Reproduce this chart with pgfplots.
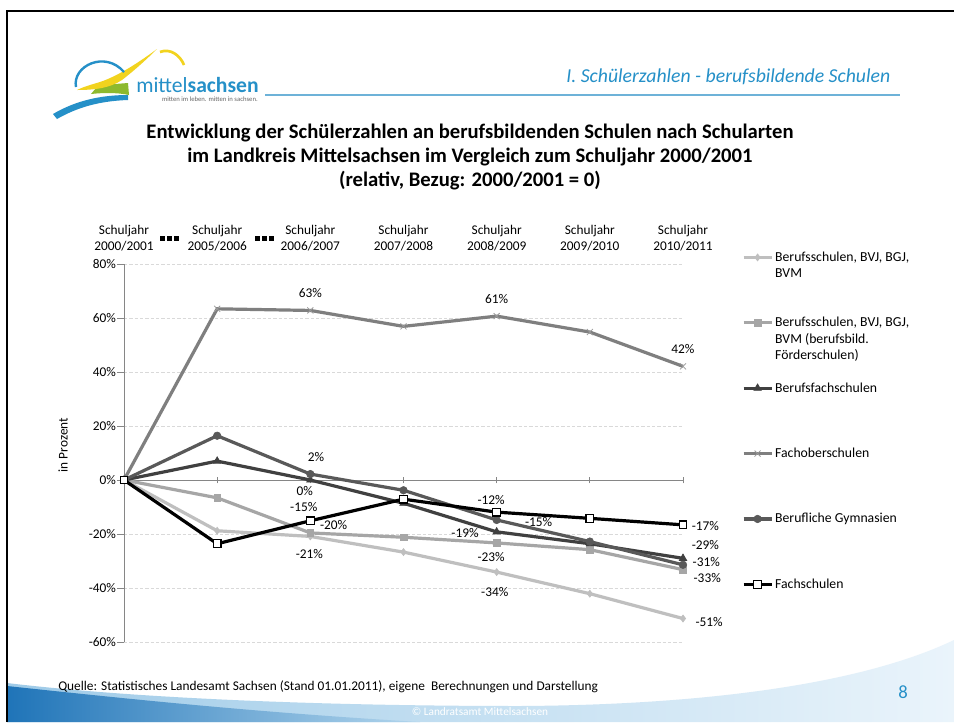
\documentclass[border=0pt]{standalone}
\usepackage{pgfplots}
\pgfplotsset{compat=1.18}
\usepackage{fontspec}
\setmainfont{Carlito}

\definecolor{cBVM}{HTML}{BFBFBF}
\definecolor{cFoe}{HTML}{A6A6A6}
\definecolor{cBFS}{HTML}{404040}
\definecolor{cFOS}{HTML}{7F7F7F}
\definecolor{cGym}{HTML}{595959}
\definecolor{axisgray}{HTML}{868686}
\definecolor{gridgray}{HTML}{D9D9D9}
\definecolor{msblue}{HTML}{2590C8}
\definecolor{headline}{HTML}{6DB2D8}
\definecolor{msyellow}{HTML}{F2D31E}
\definecolor{msgreen}{HTML}{8DB92E}
\definecolor{bandL}{HTML}{1F74B8}
\definecolor{bandM}{HTML}{9FCBE8}
\definecolor{bandR}{HTML}{EAF4FB}

\tikzset{lbl/.style={font=\fontsize{10}{12}\selectfont, inner sep=0pt},
         cat/.style={align=center, font=\fontsize{10}{12}\selectfont, inner sep=0pt}}
\newcommand{\sq}{\rule{3.7pt}{3.7pt}\hspace{1.5pt}\rule{3.7pt}{3.7pt}\hspace{1.5pt}\rule{3.7pt}{3.7pt}}

\begin{document}
\begin{tikzpicture}[x=0.75pt,y=-0.75pt]
\path[use as bounding box] (0,0) rectangle (954,722);
\fill[white] (0,0) rectangle (954,722);

% bottom band
\shade[left color=bandM, right color=bandR] (7,683) .. controls (150,700) and (350,706) .. (520,706)
  .. controls (700,705) and (860,685) .. (954,640) -- (954,722) -- (7,722) -- cycle;
\shade[left color=bandL, right color=bandM!80] (7,686) .. controls (120,698) and (250,712) .. (420,722) -- (7,722) -- cycle;
\node[text=white, font=\fontsize{8.5}{10}\selectfont] at (480,712) {© Landratsamt Mittelsachsen};
\node[text=msblue, font=\fontsize{14}{16}\selectfont] at (903,692) {8};

% frame
\draw[black, line width=2.2pt] (7,722) -- (7,11) -- (954,11);

% logo
\fill[msblue] (53,114) .. controls (75,101) and (100,95) .. (128,95) -- (128,100)
  .. controls (100,101) and (78,107) .. (57,119) -- cycle;
\fill[msgreen] (91,94) .. controls (95,89) and (98,86) .. (102,85) -- (128,83) -- (129,95)
  .. controls (115,92) and (100,93) .. cycle;
\fill[msyellow] (77,90) .. controls (95,90) and (110,88) .. (122,80) .. controls (135,70) and (148,58) .. (157,49)
  .. controls (138,63) and (118,76) .. (100,82) .. controls (90,85) and (83,87) .. (77,90) -- cycle;
\draw[msyellow, line width=2pt] (160,52) .. controls (170,48) and (180,55) .. (184,65);
\draw[msblue, line width=1.8pt] (76,87) .. controls (72,66) and (105,50) .. (124,72);
\node[anchor=base west, text=msblue, inner sep=0pt, font=\fontsize{16.2}{17}\selectfont] at (136,92) {mittel\textbf{sachsen}};
\node[anchor=base east, text=black!60, inner sep=0pt, font=\fontsize{5}{6}\selectfont] at (258,101) {mitten im leben. mitten in sachsen.};

% header
\node[anchor=east, text=msblue, font=\itshape\fontsize{14.8}{16}\selectfont] at (895,77) {I. Schülerzahlen - berufsbildende Schulen};
\draw[headline, line width=1.5pt] (265,95) -- (900,95);

% title
\node[align=center, font=\bfseries\fontsize{15.5}{18}\selectfont] at (470,157)
  {Entwicklung der Schülerzahlen an berufsbildenden Schulen nach Schularten\\
   im Landkreis Mittelsachsen im Vergleich zum Schuljahr 2000/2001\\
   (relativ, Bezug: 2000/2001 = 0)};

% y label
\node[rotate=90, font=\fontsize{10}{12}\selectfont] at (63,445) {in Prozent};

% source
\node[anchor=west, inner sep=0pt, font=\fontsize{10}{12}\selectfont] at (58,687)
  {Quelle: Statistisches Landesamt Sachsen (Stand 01.01.2011), eigene\ \ Berechnungen und Darstellung};

\begin{axis}[
  at={(93pt,-481.5pt)}, anchor=south west,
  scale only axis, width=419.25pt, height=283.5pt,
  xmin=0, xmax=6, ymin=-60, ymax=80,
  clip=false,
  axis x line*=middle, axis y line*=left,
  axis line style={color=axisgray, line width=0.6pt},
  xtick={0,1,2,3,4,5,6}, xticklabels={},
  ytick={-60,-40,-20,0,20,40,60,80},
  yticklabel={\pgfmathprintnumber{\tick}\%},
  /pgf/number format/assume math mode=true,
  tick align=center, major tick length=5pt,
  tick style={color=axisgray, line width=0.6pt},
  y tick style={xshift=-2.5pt},
  ymajorgrids,
  grid style={color=gridgray, line width=0.5pt, dash pattern=on 2.5pt off 1.5pt},
  ticklabel style={font=\fontsize{10}{12}\selectfont},
  legend style={draw=none, fill=none, at={(1.1055,1.0333)}, anchor=north west,
    row sep=0pt, column sep=1.5pt, inner sep=0pt, outer sep=0pt,
    cells={anchor=base west},
    nodes={inner sep=0pt, anchor=base west, text height=7.5pt, text depth=4.76pt,
      font=\fontsize{10.3}{11.3}\selectfont}},
  legend image code/.code={\draw[mark repeat=2,mark phase=2,yshift=3pt]
    plot coordinates {(0pt,0pt) (10.5pt,0pt) (21pt,0pt)};},
]
\addplot[color=cBVM, line width=2.4pt, mark=diamond*, mark size=2.6pt, mark options={fill=cBVM, line width=0.5pt}]
  coordinates {(0,0) (1,-18.8) (2,-20.9) (3,-26.7) (4,-34.1) (5,-42.1) (6,-51.3)};
\addlegendentry{Berufsschulen, BVJ, BGJ,}
\addlegendimage{empty legend}\addlegendentry{BVM}
\addlegendimage{empty legend}\addlegendentry{\mbox{}}
\addlegendimage{empty legend}\addlegendentry{\mbox{}}
\addplot[color=cFoe, line width=2.4pt, mark=square*, mark size=2.5pt, mark options={fill=cFoe, line width=0.5pt}]
  coordinates {(0,0) (1,-6.6) (2,-19.6) (3,-21.2) (4,-23.3) (5,-25.8) (6,-33.2)};
\addlegendentry{Berufsschulen, BVJ, BGJ,}
\addlegendimage{empty legend}\addlegendentry{BVM (berufsbild.}
\addlegendimage{empty legend}\addlegendentry{Förderschulen)}
\addlegendimage{empty legend}\addlegendentry{\mbox{}}
\addplot[color=cBFS, line width=2.4pt, mark=triangle*, mark size=3.2pt, mark options={fill=cBFS, line width=0.5pt}]
  coordinates {(0,0) (1,7.0) (2,0.0) (3,-8.6) (4,-19.2) (5,-23.6) (6,-29.0)};
\addlegendentry{Berufsfachschulen}
\addlegendimage{empty legend}\addlegendentry{\mbox{}}
\addlegendimage{empty legend}\addlegendentry{\mbox{}}
\addlegendimage{empty legend}\addlegendentry{\mbox{}}
\addplot[color=cFOS, line width=2.4pt, mark=x, mark size=3.2pt, mark options={line width=0.6pt, color=cFOS!80}]
  coordinates {(0,0) (1,63.4) (2,62.8) (3,56.9) (4,60.7) (5,54.8) (6,42.1)};
\addlegendentry{Fachoberschulen}
\addlegendimage{empty legend}\addlegendentry{\mbox{}}
\addlegendimage{empty legend}\addlegendentry{\mbox{}}
\addlegendimage{empty legend}\addlegendentry{\mbox{}}
\addplot[color=cGym, line width=2.4pt, mark=*, mark size=2.8pt, mark options={fill=cGym, line width=0.5pt}]
  coordinates {(0,0) (1,16.4) (2,2.2) (3,-3.8) (4,-14.8) (5,-22.8) (6,-31.4)};
\addlegendentry{Berufliche Gymnasien}
\addlegendimage{empty legend}\addlegendentry{\mbox{}}
\addlegendimage{empty legend}\addlegendentry{\mbox{}}
\addlegendimage{empty legend}\addlegendentry{\mbox{}}
\addplot[color=black, line width=2.4pt, mark=square*, mark size=2.9pt, mark options={fill=white, draw=black, line width=0.9pt}]
  coordinates {(0,0) (1,-23.6) (2,-15.1) (3,-7.1) (4,-11.9) (5,-14.2) (6,-16.6)};
\addlegendentry{Fachschulen}

% category labels at top
\node[cat] at (axis cs:0,89.6) {Schuljahr\\2000/2001};
\node[cat] at (axis cs:1,89.6) {Schuljahr\\2005/2006};
\node[cat] at (axis cs:2,89.6) {Schuljahr\\2006/2007};
\node[cat] at (axis cs:3,89.6) {Schuljahr\\2007/2008};
\node[cat] at (axis cs:4,89.6) {Schuljahr\\2008/2009};
\node[cat] at (axis cs:5,89.6) {Schuljahr\\2009/2010};
\node[cat] at (axis cs:6,89.6) {Schuljahr\\2010/2011};
\node[inner sep=0pt] at (axis cs:0.49,89.6) {\sq};
\node[inner sep=0pt] at (axis cs:1.51,89.6) {\sq};

% data labels
\node[lbl] at (axis cs:2,69.3) {63\%};
\node[lbl] at (axis cs:4,67.0) {61\%};
\node[lbl] at (axis cs:6,48.5) {42\%};
\node[lbl] at (axis cs:2.06,8.5) {2\%};
\node[lbl] at (axis cs:1.94,-4.1) {0\%};
\node[lbl] at (axis cs:1.93,-10.0) {-15\%};
\node[lbl] at (axis cs:2.25,-16.7) {-20\%};
\node[lbl] at (axis cs:1.99,-27.4) {-21\%};
\node[lbl] at (axis cs:3.94,-7.4) {-12\%};
\node[lbl] at (axis cs:3.66,-19.6) {-19\%};
\node[lbl] at (axis cs:4.45,-15.6) {-15\%};
\node[lbl] at (axis cs:3.94,-28.5) {-23\%};
\node[lbl] at (axis cs:3.98,-41.5) {-34\%};
\node[lbl] at (axis cs:6.24,-17.0) {-17\%};
\node[lbl] at (axis cs:6.24,-24.2) {-29\%};
\node[lbl] at (axis cs:6.25,-30.4) {-31\%};
\node[lbl] at (axis cs:6.26,-36.3) {-33\%};
\node[lbl] at (axis cs:6.28,-52.6) {-51\%};
\end{axis}
\end{tikzpicture}
\end{document}
